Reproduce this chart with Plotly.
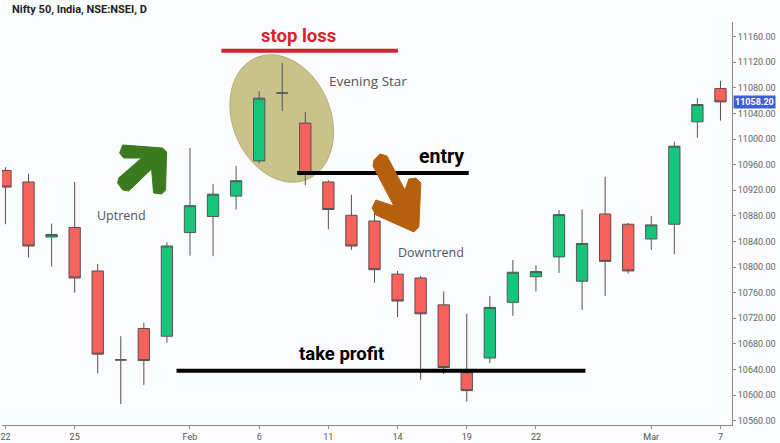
import numpy as np
import plotly.graph_objects as go

# ---- data ----
dates = ["2019-01-22", "2019-01-23", "2019-01-24", "2019-01-25", "2019-01-28", "2019-01-29",
         "2019-01-30", "2019-01-31", "2019-02-01", "2019-02-04", "2019-02-05", "2019-02-06",
         "2019-02-07", "2019-02-08", "2019-02-11", "2019-02-12", "2019-02-13", "2019-02-14",
         "2019-02-15", "2019-02-18", "2019-02-19", "2019-02-20", "2019-02-21", "2019-02-22",
         "2019-02-25", "2019-02-26", "2019-02-27", "2019-02-28", "2019-03-01", "2019-03-05",
         "2019-03-06", "2019-03-07"]
opens = [10951, 10933, 10847, 10862, 10794, 10655, 10704, 10692, 10854, 10879, 10911, 10966,
         11072, 11025, 10933, 10881, 10872, 10789, 10783, 10741, 10635, 10658, 10745, 10785,
         10816, 10778, 10883, 10867, 10844, 10867, 11027, 11079]
highs = [10956, 10946, 10868, 10933, 10805, 10692, 10713, 10839, 10986, 10930, 10958, 11075,
         11119, 11042, 10936, 10913, 10887, 10794, 10786, 10762, 10727, 10755, 10811, 10803,
         10889, 10890, 10941, 10869, 10880, 10996, 11064, 11091]
lows = [10867, 10815, 10801, 10760, 10634, 10586, 10616, 10682, 10818, 10817, 10890, 10962,
        11044, 10928, 10859, 10827, 10776, 10722, 10624, 10633, 10590, 10650, 10724, 10762,
        10791, 10733, 10755, 10790, 10827, 10820, 11002, 11029]
closes = [10925, 10833, 10851, 10783, 10664, 10655, 10654, 10833, 10896, 10914, 10935, 11064,
          11072, 10946, 10890, 10833, 10796, 10747, 10727, 10643, 10607, 10737, 10792, 10793,
          10882, 10837, 10809, 10794, 10866, 10989, 11054, 11058.2]

tick_dates = ["2019-01-22", "2019-01-25", "2019-02-01", "2019-02-06", "2019-02-11",
              "2019-02-14", "2019-02-19", "2019-02-22", "2019-03-01", "2019-03-07"]
tick_text = ["22", "25", "Feb", "6", "11", "14", "19", "22", "Mar", "7"]
y_ticks = [10560, 10600, 10640, 10680, 10720, 10760, 10800, 10840, 10880, 10920,
           10960, 11000, 11040, 11080, 11120, 11160]

stop_loss = 11138
entry = 10947
take_profit = 10638
last_price = 11058.20

# ---- layout geometry (pixels) ----
W, H = 780, 443
PL, PR, PT, PB = 0, 732, 22, 425


def px(x):
    return (x - PL) / (PR - PL)


def py(y):
    return (PB - y) / (PB - PT)


def path(points):
    return "M " + " L ".join(f"{px(x):.5f},{py(y):.5f}" for x, y in points) + " Z"


fig = go.Figure()
fig.add_trace(go.Candlestick(
    x=dates, open=opens, high=highs, low=lows, close=closes,
    increasing=dict(fillcolor="#17c47c", line=dict(color="#4f5a55", width=1)),
    decreasing=dict(fillcolor="#f7625c", line=dict(color="#5a4f4f", width=1)),
    whiskerwidth=0, showlegend=False, hoverinfo="skip",
))

shapes = []
# Evening star ellipse
th = np.radians(23)
cx, cy, a, b = 280.5, 118.5, 66, 49
t = np.linspace(0, 2 * np.pi, 73)
ex = cx + a * np.cos(t) * np.sin(th) + b * np.sin(t) * np.cos(th)
ey = cy + a * np.cos(t) * np.cos(th) - b * np.sin(t) * np.sin(th)
shapes.append(dict(type="path", xref="paper", yref="paper", path=path(zip(ex, ey)),
                   fillcolor="#c7c38b", line=dict(color="#b4af73", width=1), layer="below"))

# Horizontal levels
shapes.append(dict(type="line", xref="paper", yref="y", x0=px(220), x1=px(397),
                   y0=stop_loss, y1=stop_loss, line=dict(color="#d6222c", width=4)))
shapes.append(dict(type="line", xref="paper", yref="y", x0=px(296), x1=px(468),
                   y0=entry, y1=entry, line=dict(color="#000000", width=4)))
shapes.append(dict(type="line", xref="paper", yref="y", x0=px(175), x1=px(585),
                   y0=take_profit, y1=take_profit, line=dict(color="#000000", width=4)))

# Green up arrow
green_arrow = [(121, 145), (161, 148), (165, 152), (164, 190), (160, 194), (152, 193),
               (150, 169), (127, 191), (121, 190), (116, 183), (117, 178), (140, 158),
               (122, 158), (118, 153)]
shapes.append(dict(type="path", xref="paper", yref="paper", path=path(green_arrow),
                   fillcolor="#3b7a1e", line=dict(color="#3b7a1e", width=1)))

# Brown down arrow
brown_arrow = [(373, 160), (379, 154), (386, 156), (404, 190), (408, 179), (415, 178),
               (420, 183), (418, 227), (413, 232), (375, 215), (371, 208), (375, 200),
               (393, 206), (372, 166)]
shapes.append(dict(type="path", xref="paper", yref="paper", path=path(brown_arrow),
                   fillcolor="#b5600f", line=dict(color="#b5600f", width=1)))

annotations = []


def label(text, x, y, size, color, family="Roboto", bold=False, xanchor="center"):
    annotations.append(dict(
        text=f"<b>{text}</b>" if bold else text, xref="paper", yref="paper",
        x=px(x), y=py(y), xanchor=xanchor, yanchor="middle", showarrow=False,
        font=dict(size=size, color=color, family=family)))


label("Nifty 50, India, NSE:NSEI, D", 8, 9, 11, "#1f1f1f", bold=True, xanchor="left")
label("stop loss", 297, 36, 18.5, "#d6222c", bold=True)
label("Evening Star", 367, 81, 13.5, "#555555", family="Open Sans")
label("Uptrend", 120, 215, 12.5, "#555555", family="Open Sans")
label("entry", 441, 156, 19.5, "#000000", bold=True)
label("Downtrend", 430, 252, 12.5, "#555555", family="Open Sans")
label("take profit", 340, 354, 18.5, "#000000", bold=True)

# last price tag
annotations.append(dict(
    text="<b>11058.20</b>", xref="paper", yref="y", x=1, y=last_price,
    xanchor="left", yanchor="middle", showarrow=False, bgcolor="#3f5fd6",
    font=dict(size=9, color="#ffffff", family="Roboto"), borderpad=1, xshift=1))

fig.update_layout(
    width=W, height=H,
    margin=dict(l=PL, r=W - PR, t=PT, b=H - PB, pad=0),
    paper_bgcolor="#fafbfc", plot_bgcolor="#fafbfc",
    shapes=shapes, annotations=annotations,
    xaxis=dict(type="category", range=[-0.15, 31.5], rangeslider=dict(visible=False),
               tickmode="array", tickvals=tick_dates, ticktext=tick_text,
               showgrid=False, zeroline=False, showline=True, linecolor="#8a8a8a",
               linewidth=1, ticks="outside", ticklen=3, tickcolor="#8a8a8a",
               tickfont=dict(size=9, color="#555555", family="Roboto")),
    yaxis=dict(side="right", range=[10553.3, 11183], tickmode="array", tickvals=y_ticks,
               tickformat=".2f", showgrid=False, zeroline=False, showline=True,
               linecolor="#8a8a8a", linewidth=1, ticks="outside", ticklen=3,
               tickcolor="#8a8a8a", tickfont=dict(size=9, color="#666666", family="Roboto")),
    showlegend=False,
)

fig.write_html(
    "out.html",
    config={"displayModeBar": False},
    post_script="document.body.style.margin='0px';document.body.style.overflow='hidden';"
                "document.body.style.background='#fafbfc';",
)
